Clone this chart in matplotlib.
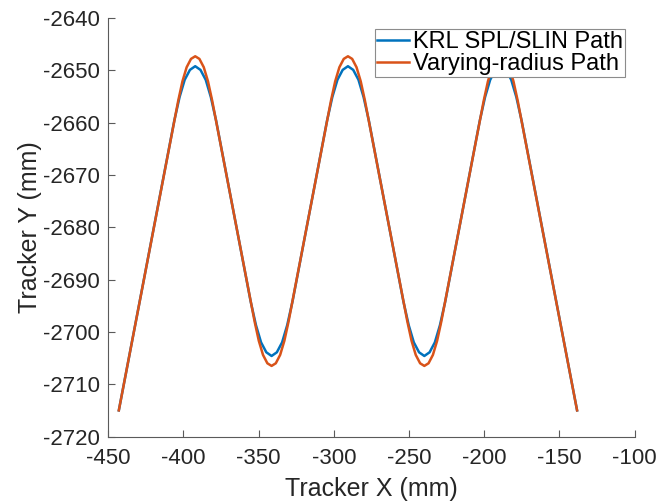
import matplotlib
matplotlib.use("Agg")
import matplotlib.pyplot as plt
from matplotlib.legend_handler import HandlerLine2D

# Path samples (mm): KRL SPL/SLIN output and the varying-radius path
spl_x = [-443.0,
         -406.1, -402.6, -399.2, -395.7, -392.2, -388.7, -385.2, -381.8, -378.3,
         -355.3, -351.8, -348.4, -344.9, -341.4, -337.9, -334.4, -331.0, -327.5,
         -304.5, -301.0, -297.6, -294.1, -290.6, -287.1, -283.6, -280.2, -276.7,
         -253.7, -250.2, -246.8, -243.3, -239.8, -236.3, -232.8, -229.4, -225.9,
         -202.9, -199.4, -196.0, -192.5, -189.0, -185.5, -182.0, -178.6, -175.1,
         -138.2]
spl_y = [-2715.0,
         -2659.6, -2655.1, -2651.8, -2649.9, -2649.2, -2649.9, -2651.8, -2655.1, -2659.6,
         -2694.2, -2698.7, -2702.0, -2703.9, -2704.6, -2703.9, -2702.0, -2698.7, -2694.2,
         -2659.6, -2655.1, -2651.8, -2649.9, -2649.2, -2649.9, -2651.8, -2655.1, -2659.6,
         -2694.2, -2698.7, -2702.0, -2703.9, -2704.6, -2703.9, -2702.0, -2698.7, -2694.2,
         -2659.6, -2655.1, -2651.8, -2649.9, -2649.2, -2649.9, -2651.8, -2655.1, -2659.6,
         -2715.0]

vr_x = [-443.0,
        -403.5, -400.7, -397.9, -395.0, -392.2, -389.4, -386.5, -383.7, -380.9,
        -352.7, -349.9, -347.1, -344.2, -341.4, -338.6, -335.7, -332.9, -330.1,
        -301.9, -299.1, -296.3, -293.4, -290.6, -287.8, -284.9, -282.1, -279.3,
        -251.1, -248.3, -245.5, -242.6, -239.8, -237.0, -234.1, -231.3, -228.5,
        -200.3, -197.5, -194.7, -191.8, -189.0, -186.2, -183.3, -180.5, -177.7,
        -138.2]
vr_y = [-2715.0,
        -2655.8, -2652.1, -2649.4, -2647.8, -2647.3, -2647.8, -2649.4, -2652.1, -2655.8,
        -2698.0, -2701.7, -2704.4, -2706.0, -2706.5, -2706.0, -2704.4, -2701.7, -2698.0,
        -2655.8, -2652.1, -2649.4, -2647.8, -2647.3, -2647.8, -2649.4, -2652.1, -2655.8,
        -2698.0, -2701.7, -2704.4, -2706.0, -2706.5, -2706.0, -2704.4, -2701.7, -2698.0,
        -2655.8, -2652.1, -2649.4, -2647.8, -2647.3, -2647.8, -2649.4, -2652.1, -2655.8,
        -2715.0]

series_labels = ["KRL SPL/SLIN Path", "Varying-radius Path"]
x_ticks = [-450, -400, -350, -300, -250, -200, -150, -100]
y_ticks = [-2720, -2710, -2700, -2690, -2680, -2670, -2660, -2650, -2640]


class InsetLineHandler(HandlerLine2D):
    """Legend line sample that leaves a small margin on its left."""

    def create_artists(self, legend, orig_handle, xdescent, ydescent,
                       width, height, fontsize, trans):
        artists = super().create_artists(legend, orig_handle, xdescent,
                                         ydescent, width, height, fontsize,
                                         trans)
        for a in artists:
            xd = a.get_xdata()
            if len(xd) == 2:
                a.set_xdata([xd[0] + 0.23 * (xd[1] - xd[0]), xd[1]])
        return artists


plt.rcParams['font.family'] = ['Liberation Sans', 'DejaVu Sans']
plt.rcParams['axes.unicode_minus'] = False

fig = plt.figure(figsize=(6.58, 5.04), dpi=100)
ax = fig.add_axes([0.1646, 0.1339, 0.7997, 0.8302])

l1, = ax.plot(spl_x, spl_y, color='#0072BD', lw=1.8, label=series_labels[0])
l2, = ax.plot(vr_x, vr_y, color='#D95319', lw=1.8, label=series_labels[1])

ax.set_xlim(-450, -100)
ax.set_ylim(-2720, -2640)
ax.set_xticks(x_ticks)
ax.set_yticks(y_ticks)

axis_color = '#262626'
for side in ('top', 'right'):
    ax.spines[side].set_visible(False)
for side in ('left', 'bottom'):
    ax.spines[side].set_color('#5a5a5a')
    ax.spines[side].set_linewidth(0.8)
ax.tick_params(direction='in', length=5, width=0.8, color='#5a5a5a',
               labelsize=16, labelcolor=axis_color)
ax.tick_params(axis='y', pad=6)
ax.tick_params(axis='x', pad=8)

ax.set_xlabel('Tracker X (mm)', fontsize=18, color=axis_color, labelpad=6)
ax.set_ylabel('Tracker Y (mm)', fontsize=18, color=axis_color, labelpad=1)

leg = ax.legend(loc='upper right', bbox_to_anchor=(0.982, 0.974), borderaxespad=0,
                fontsize=17, fancybox=False, framealpha=1, edgecolor='#8c8c8c',
                handlelength=1.35, handletextpad=0.17, borderpad=0.08,
                labelspacing=0.0,
                handler_map={l1: InsetLineHandler(), l2: InsetLineHandler()})
leg.get_frame().set_linewidth(0.8)
for t in leg.get_texts():
    t.set_color('black')

fig.savefig('out.png', dpi=100)
